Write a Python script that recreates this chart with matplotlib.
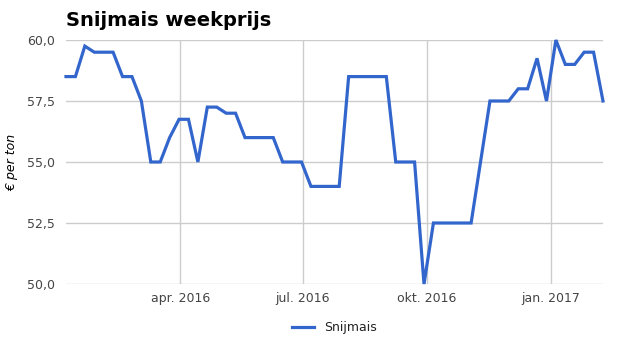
import pandas as pd
import matplotlib.pyplot as plt
import matplotlib.dates as mdates
from matplotlib.ticker import FuncFormatter

# weekprijzen snijmais (euro per ton), week 1 2016 t/m februari 2017
start_date = '2016-01-07'
prices = [58.5, 58.5, 59.75, 59.5, 59.5, 59.5, 58.5, 58.5, 57.5, 55.0,
          55.0, 56.0, 56.75, 56.75, 55.0, 57.25, 57.25, 57.0, 57.0, 56.0,
          56.0, 56.0, 56.0, 55.0, 55.0, 55.0, 54.0, 54.0, 54.0, 54.0,
          58.5, 58.5, 58.5, 58.5, 58.5, 55.0, 55.0, 55.0, 50.0, 52.5,
          52.5, 52.5, 52.5, 52.5, 55.0, 57.5, 57.5, 57.5, 58.0, 58.0,
          59.25, 57.5, 60.0, 59.0, 59.0, 59.5, 59.5, 57.5]
tick_dates = ['2016-04-01', '2016-07-01', '2016-10-01', '2017-01-01']
tick_labels = ['apr. 2016', 'jul. 2016', 'okt. 2016', 'jan. 2017']
y_ticks = [50.0, 52.5, 55.0, 57.5, 60.0]

dates = pd.date_range(start_date, periods=len(prices), freq='7D')

fig = plt.figure(figsize=(6.25, 3.55), dpi=100)
ax = fig.add_axes([66 / 625, 1 - 284 / 355, 537 / 625, 244 / 355])

ax.plot(dates, prices, color='#3366cc', lw=2.3, label='Snijmais',
        solid_joinstyle='miter', clip_on=False)

ax.set_xlim(dates[0], dates[-1])
ax.set_ylim(50, 60)
ax.set_yticks(y_ticks)
ax.yaxis.set_major_formatter(FuncFormatter(lambda v, p: f'{v:.1f}'.replace('.', ',')))
ax.set_xticks(pd.to_datetime(tick_dates))
ax.set_xticklabels(tick_labels)

ax.grid(True, color='#cccccc', lw=1)
ax.set_axisbelow(True)
for s in ax.spines.values():
    s.set_visible(False)
ax.tick_params(length=0, labelsize=9, labelcolor='#444444')
ax.tick_params(axis='y', pad=8)
ax.tick_params(axis='x', pad=6)

ax.set_ylabel('€ per ton', fontsize=9, style='italic', labelpad=6)
fig.text(66 / 625, 1 - 20 / 355, 'Snijmais weekprijs', fontsize=14,
         fontweight='bold', va='center', ha='left')

fig.legend(loc='center', bbox_to_anchor=(0.535, 1 - 328 / 355), frameon=False,
           fontsize=9, handlelength=1.8, labelcolor='#222222')

fig.savefig('out.png', dpi=100)
